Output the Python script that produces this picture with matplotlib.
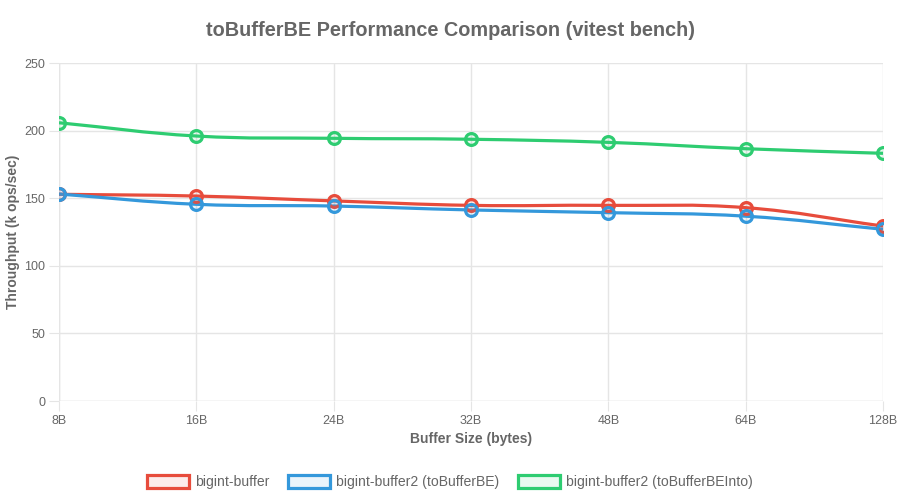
import numpy as np
import matplotlib
matplotlib.use("Agg")
import matplotlib.pyplot as plt
from matplotlib.path import Path
from matplotlib.patches import PathPatch, Patch

plt.rcParams['font.family'] = ['Liberation Sans', 'DejaVu Sans']

categories = ["8B", "16B", "24B", "32B", "48B", "64B", "128B"]
bigint_buffer = [152.9, 151.6, 148.0, 144.7, 144.7, 143.0, 129.4]
bigint_buffer2_tobe = [153.1, 145.5, 144.2, 141.3, 139.3, 136.7, 127.0]
bigint_buffer2_into = [205.8, 196.0, 194.3, 193.6, 191.3, 186.6, 183.2]
series_labels = ["bigint-buffer", "bigint-buffer2 (toBufferBE)", "bigint-buffer2 (toBufferBEInto)"]
colors = ["#e74c3c", "#3498db", "#2ecc71"]
y_ticks = [0, 50, 100, 150, 200, 250]

fig = plt.figure(figsize=(9, 5), dpi=100)
ax = fig.add_axes([59/900, 1-401/500, (883-59)/900, (401-63)/500])
ax.set_xlim(0, len(categories)-1)
ax.set_ylim(0, 250)

sx = (883-59)/(len(categories)-1)
sy = (401-63)/250.0

def spline_path(xs, ys, t=0.4):
    px = np.array(xs, float)*sx
    py = np.array(ys, float)*sy
    n = len(px)
    cps = []
    for i in range(n):
        p = np.array([px[max(i-1,0)], py[max(i-1,0)]])
        c = np.array([px[i], py[i]])
        nx = np.array([px[min(i+1,n-1)], py[min(i+1,n-1)]])
        d01 = np.hypot(*(c-p)); d12 = np.hypot(*(nx-c))
        s01 = d01/(d01+d12) if d01+d12 > 0 else 0
        s12 = d12/(d01+d12) if d01+d12 > 0 else 0
        fa = t*s01; fb = t*s12
        prev_cp = c - fa*(nx-p)
        next_cp = c + fb*(nx-p)
        cps.append((prev_cp, next_cp))
    verts = [(px[0], py[0])]
    codes = [Path.MOVETO]
    for i in range(1, n):
        verts += [tuple(cps[i-1][1]), tuple(cps[i][0]), (px[i], py[i])]
        codes += [Path.CURVE4]*3
    verts = [(vx/sx, vy/sy) for vx, vy in verts]
    return Path(verts, codes)

x = np.arange(len(categories))
all_series = [bigint_buffer, bigint_buffer2_tobe, bigint_buffer2_into]
for vals, col in zip(all_series, colors):
    ax.add_patch(PathPatch(spline_path(x, vals), facecolor='none', edgecolor=col, lw=2.3, zorder=3))
    ax.plot(x, vals, linestyle='none', marker='o', markersize=8.5,
            markeredgewidth=2.3, markeredgecolor=col,
            markerfacecolor=matplotlib.colors.to_rgba(col, 0.1), zorder=4)

ax.set_xticks(x)
ax.set_xticklabels(categories)
ax.set_yticks(y_ticks)
for s in ax.spines.values():
    s.set_visible(False)
ax.grid(True, color='#e5e5e5', lw=1)
ax.set_axisbelow(True)
ax.tick_params(axis='both', length=7, color='#e5e5e5', labelsize=9, labelcolor='#666666', pad=3)
ax.axhline(0, color='#e5e5e5', lw=1, zorder=1)
ax.axvline(0, color='#e5e5e5', lw=1, zorder=1)

ax.set_xlabel("Buffer Size (bytes)", fontsize=10, fontweight='bold', color='#666666', labelpad=4)
ax.set_ylabel("Throughput (k ops/sec)", fontsize=10, fontweight='bold', color='#666666',
              va='center', rotation_mode='anchor')
ax.yaxis.set_label_coords((13-59)/824, 0.5)

fig.text(0.5, 1-30/500, "toBufferBE Performance Comparison (vitest bench)", ha='center', va='center',
         fontsize=14.3, fontweight='bold', color='#666666')

handles = [Patch(facecolor=matplotlib.colors.to_rgba(c, 0.1), edgecolor=c, lw=2.3) for c in colors]
leg = fig.legend(handles, series_labels, loc='center', bbox_to_anchor=(0.5, 1-482/500), ncol=3,
                 frameon=False, fontsize=10.1, handlelength=3.0, handleheight=1.0, columnspacing=1.3,
                 handletextpad=0.45)
for t in leg.get_texts():
    t.set_color('#666666')

fig.savefig("out.png", dpi=100)
